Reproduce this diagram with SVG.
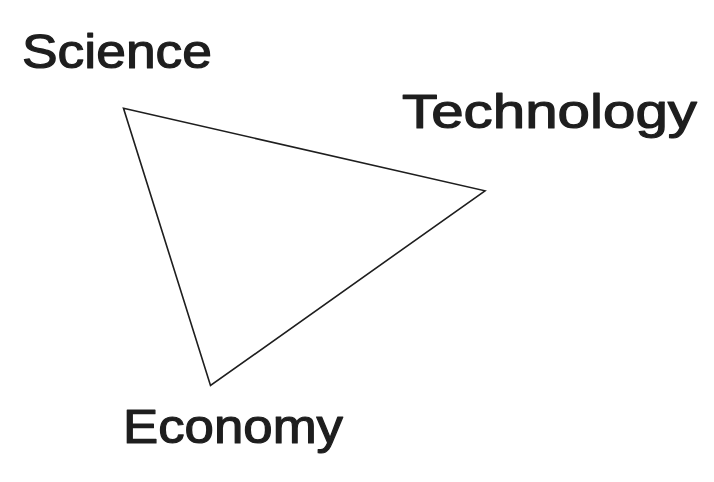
<svg xmlns="http://www.w3.org/2000/svg" width="714" height="482" viewBox="0 0 714 482">
  <style>
    .lbl { font-family: "Liberation Sans", "DejaVu Sans", sans-serif; font-size: 48px; fill: #1e1e1e; stroke: #1e1e1e; stroke-width: 1.2; stroke-linejoin: round; }
    .edge { fill: none; stroke: #1e1e1e; stroke-width: 1.6; stroke-linejoin: miter; }
  </style>
  <rect width="714" height="482" fill="#ffffff"/>
  <g id="connectors">
    <polygon class="edge" points="123.5,108.3 485,190.8 210.5,385.5"/>
  </g>
  <g id="science">
    <text class="lbl" x="22" y="68" textLength="190" lengthAdjust="spacingAndGlyphs">Science</text>
  </g>
  <g id="technology">
    <text class="lbl" x="402" y="128" textLength="295" lengthAdjust="spacingAndGlyphs">Technology</text>
  </g>
  <g id="economy">
    <text class="lbl" x="123" y="443" textLength="220" lengthAdjust="spacingAndGlyphs">Economy</text>
  </g>
</svg>
